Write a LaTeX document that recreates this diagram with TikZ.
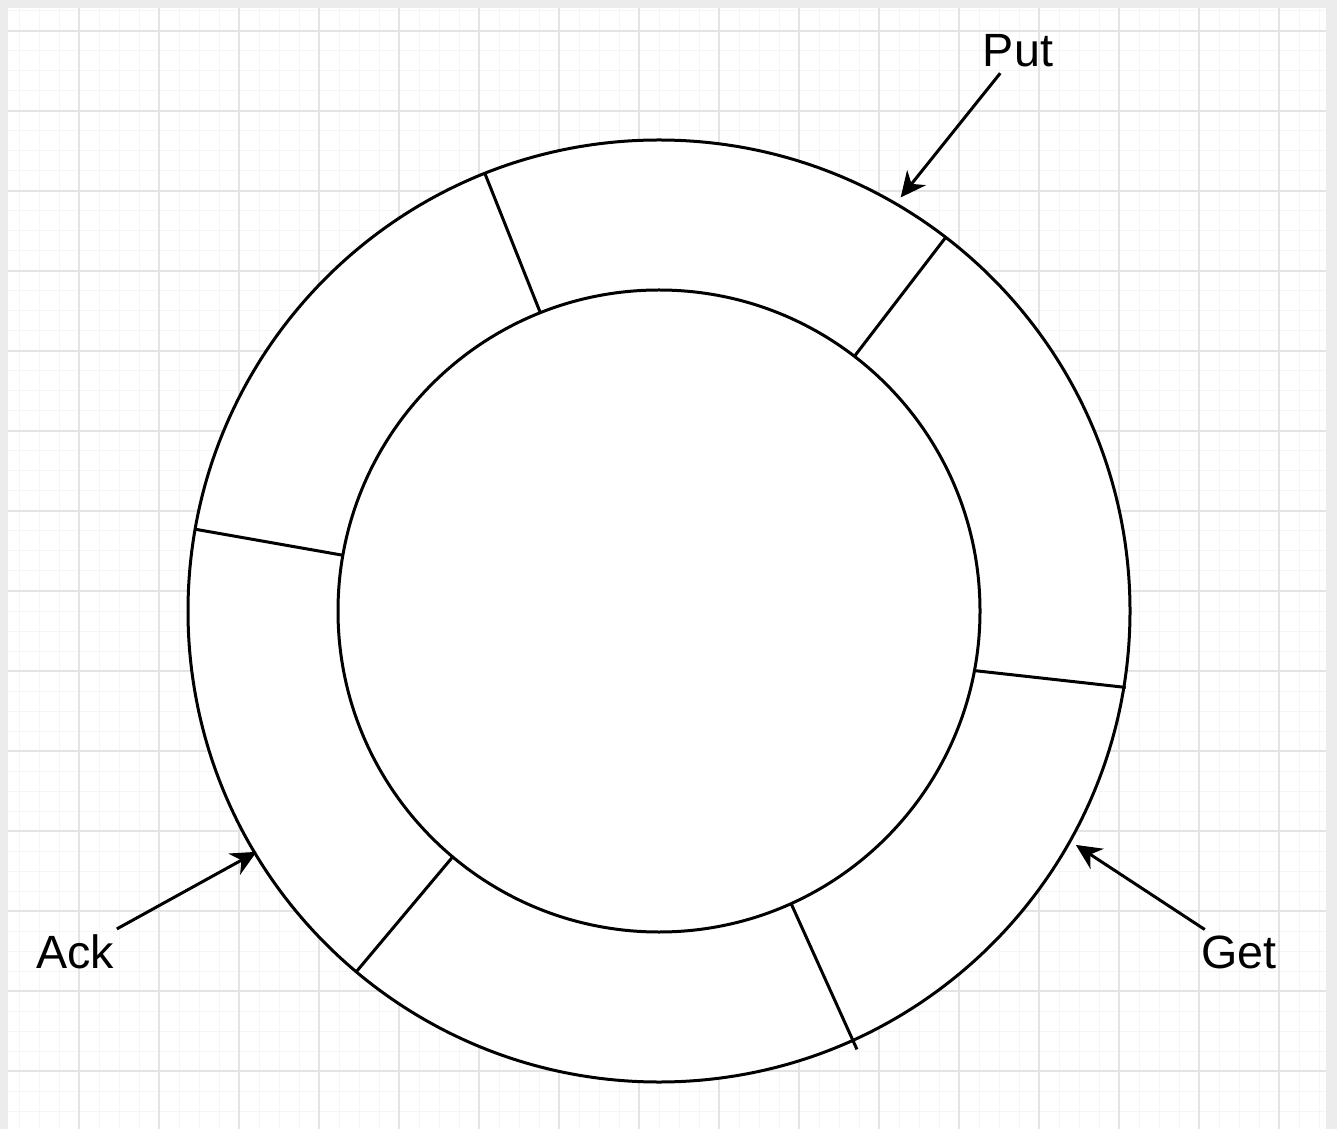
\documentclass[tikz,border=0pt]{standalone}
\usepackage{fontspec}
\setmainfont{Liberation Sans}
\usetikzlibrary{arrows.meta}
\definecolor{gridmajor}{RGB}{228,228,228}
\definecolor{gridminor}{RGB}{245,245,245}
\definecolor{pageshade}{RGB}{236,236,236}

\begin{document}
\begin{tikzpicture}[x=0.75pt, y=0.75pt, >={Stealth[length=19pt,width=18pt,inset=6pt]}, font=\fontsize{35}{42}\selectfont, line width=2.25pt]
				\useasboundingbox (0,0) rectangle (1337,1129);
				%Hintergrund
				\fill[pageshade] (0,0) rectangle (1337,1129);
				\fill[white] (8,0) rectangle (1326,1121);
				%Raster zeichnen
				\foreach \x in {19,39,...,1319} \draw[gridminor, line width=0.75pt] (\x,0) -- (\x,1121);
				\foreach \y in {18,38,...,1118} \draw[gridminor, line width=0.75pt] (8,\y) -- (1326,\y);
				\foreach \x in {79,159,...,1279} \draw[gridmajor, line width=0.9pt] (\x,0) -- (\x,1121);
				\foreach \y in {58,138,...,1098} \draw[gridmajor, line width=0.9pt] (8,\y) -- (1326,\y);
				%Ring zeichnen
				\coordinate (c) at (659,518);
				\draw[fill=white] (c) circle (471);
				\draw (c) circle (321);
				\foreach \a/\b/\r in {111.7/111.7/471, 52.5/52.5/471, -10.7/-9.3/473, -65.7/-65.7/481, 230/230/471, 170/170/471}
					\draw ([shift={(\a:321)}]c) -- ([shift={(\b:\r)}]c);
				%Beschriftung
				\node (put) at (1018,1078) {Put};
				\node (ack) at (75,177) {Ack};
				\node (get) at (1239,177) {Get};
				\coordinate (puttip) at ([shift={(59.7:479)}]c);
				\coordinate (acktip) at ([shift={(210.9:469)}]c);
				\coordinate (gettip) at ([shift={(-29.3:478)}]c);
				%Pfeile
				\draw[->] (put) -- (puttip);
				\draw[->] (ack) -- (acktip);
				\draw[->] (get) -- (gettip);
		\end{tikzpicture}
\end{document}
